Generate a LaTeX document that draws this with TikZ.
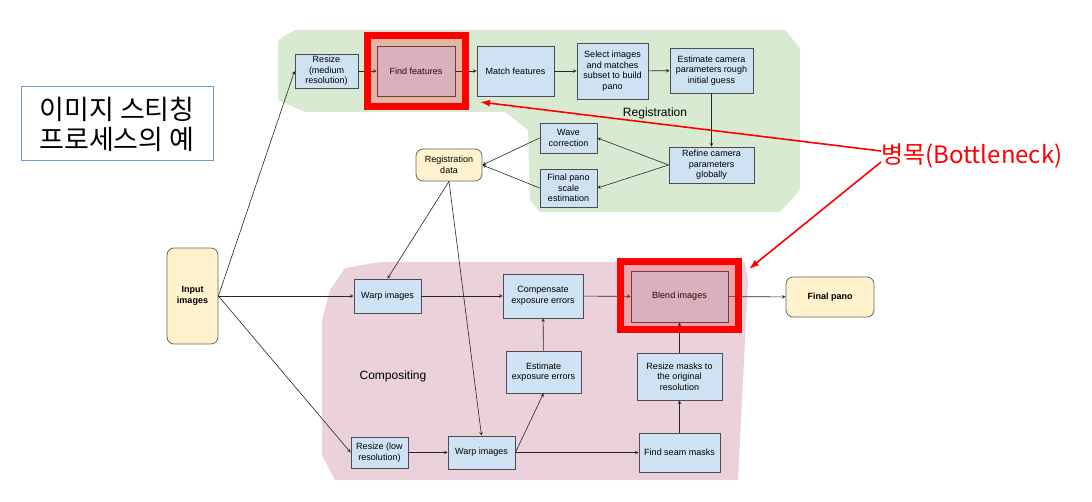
\documentclass[tikz,border=0pt]{standalone}
\usepackage{fontspec}
\setmainfont{Liberation Sans}
\newfontfamily\krfont{Noto Sans CJK KR}
\usepackage{tikz}
\usetikzlibrary{
  arrows,
  arrows.meta,
  positioning
}
\tikzset{>=stealth}
\definecolor{regback}{HTML}{D9EAD3}
\definecolor{compback}{HTML}{EAD1DC}
\definecolor{stepblue}{HTML}{CFE2F3}
\definecolor{dataylw}{HTML}{FFF2CC}
\definecolor{hlred}{HTML}{FF0000}
\definecolor{krline}{HTML}{6C9BD2}
\tikzset{
  stepbox/.style={draw=black!70, fill=stepblue, line width=0.8pt, align=center,
    inner sep=1pt, font=\fontsize{9}{10.5}\selectfont},
  databox/.style={draw=black!60, fill=dataylw, rounded corners=7pt, line width=0.8pt,
    align=center, inner sep=1pt, font=\fontsize{9}{10.5}\selectfont},
  flow/.style={->, draw=black!85, line width=0.6pt},
  hlframe/.style={draw=hlred, line width=7pt, fill=hlred, fill opacity=0.22},
  redarrow/.style={-{Latex[length=10pt,width=7pt]}, draw=hlred, line width=1.6pt},
  regionlabel/.style={font=\fontsize{12}{14}\selectfont}
}

\begin{document}
\begin{tikzpicture}[x=1pt,y=-1pt]
	\useasboundingbox (0,0) rectangle (1092,502);
	% stage backgrounds
	\fill[regback] (278,40) -- (295,30) -- (785,30) -- (800,48) -- (800,190) -- (780,212)
		-- (540,212) -- (530,200) -- (528,130) -- (505,112) -- (305,112) -- (278,100) -- cycle;
	\fill[compback] (345,268) -- (380,262) -- (745,262) -- (748,280) -- (738,480)
		-- (335,480) -- (322,455) -- (322,320) -- (330,290) -- cycle;
	\node[regionlabel] (reglabel) at (655,113) {Registration};
	\node[regionlabel] (complabel) at (393,376) {Compositing};
	% registration steps
	\node[stepbox, minimum width=63, minimum height=34] (resmed) at (326.5,71) {Resize\\(medium\\resolution)};
	\node[stepbox, minimum width=78, minimum height=50] (findfeat) at (416,71) {Find features};
	\node[stepbox, minimum width=77, minimum height=50] (matchfeat) at (515.5,71) {Match features};
	\node[stepbox, minimum width=71, minimum height=56] (selimg) at (612.5,71) {Select images\\and matches\\subset to build\\pano};
	\node[stepbox, minimum width=83, minimum height=45] (estcam) at (711.5,70.5) {Estimate camera\\parameters rough\\initial guess};
	\node[stepbox, minimum width=85, minimum height=36] (refine) at (711.5,165) {Refine camera\\parameters\\globally};
	\node[stepbox, minimum width=57, minimum height=30] (wave) at (568.5,138) {Wave\\correction};
	\node[stepbox, minimum width=57, minimum height=38] (scale) at (568.5,188) {Final pano\\scale\\estimation};
	\node[databox, minimum width=66, minimum height=32] (regdata) at (449,165) {Registration\\data};
	% compositing steps
	\node[databox, minimum width=51, minimum height=96, font=\fontsize{9}{10.5}\selectfont\bfseries] (input) at (192.5,296) {Input\\images};
	\node[stepbox, minimum width=67, minimum height=34] (warpA) at (387.5,296) {Warp images};
	\node[stepbox, minimum width=80, minimum height=44] (compexp) at (543,296) {Compensate\\exposure errors};
	\node[stepbox, minimum width=97, minimum height=51] (blend) at (679.5,296.5) {Blend images};
	\node[databox, minimum width=88, minimum height=40, font=\fontsize{9}{10.5}\selectfont\bfseries] (final) at (830,297) {Final pano};
	\node[stepbox, minimum width=75, minimum height=42] (estexp) at (543.5,372) {Estimate\\exposure errors};
	\node[stepbox, minimum width=85, minimum height=47] (resmask) at (679.5,376.5) {Resize masks to\\the original\\resolution};
	\node[stepbox, minimum width=57, minimum height=31] (reslow) at (379.5,452.5) {Resize (low\\resolution)};
	\node[stepbox, minimum width=67, minimum height=33] (warpB) at (481.5,452.5) {Warp images};
	\node[stepbox, minimum width=81, minimum height=39] (seam) at (679.5,452.5) {Find seam masks};
	% connectors
	\draw[flow] (input.east) -- (resmed.west);
	\draw[flow] (input.east) -- (warpA.west);
	\draw[flow] (input.east) -- (reslow.west);
	\draw[flow] (resmed) -- (findfeat);
	\draw[flow] (findfeat) -- (matchfeat);
	\draw[flow] (matchfeat) -- (selimg);
	\draw[flow] (selimg) -- (estcam);
	\draw[flow] (estcam) -- (refine);
	\draw[flow] (refine.west) -- (wave.east);
	\draw[flow] (refine.west) -- (scale.east);
	\draw[flow] (wave.west) -- (regdata.east);
	\draw[flow] (scale.west) -- (regdata.east);
	\draw[flow] (regdata.south) -- (warpA.north);
	\draw[flow] (regdata.south) -- (warpB.north);
	\draw[flow] (warpA) -- (compexp);
	\draw[flow] (compexp) -- (blend);
	\draw[flow] (blend) -- (final);
	\draw[flow] (reslow) -- (warpB);
	\draw[flow] (warpB.east) -- (estexp.south);
	\draw[flow] (warpB) -- (seam);
	\draw[flow] (estexp) -- (compexp);
	\draw[flow] (seam) -- (resmask);
	\draw[flow] (resmask) -- (blend);
	% bottlenecks
	\node[hlframe, minimum width=98, minimum height=71] (findmark) at (416.5,71) {};
	\node[hlframe, minimum width=118, minimum height=68] (blendmark) at (679.5,295.5) {};
	\coordinate (findtip) at (480,102);
	\coordinate (blendtip) at (749,269);
	\node[anchor=west, inner sep=0pt, text=hlred, font=\krfont\fontsize{24}{28}\selectfont] (bneck) at (881,156) {병목(Bottleneck)};
	\draw[redarrow] ([yshift=5pt]bneck.west) -- (findtip);
	\draw[redarrow] ([yshift=-6pt]bneck.west) -- (blendtip);
	% title
	\node[draw=krline, line width=1pt, minimum width=192, minimum height=74, align=left,
		font=\krfont\fontsize{27}{30}\selectfont] (title) at (117,124) {이미지 스티칭\\프로세스의 예};
\end{tikzpicture}
\end{document}
